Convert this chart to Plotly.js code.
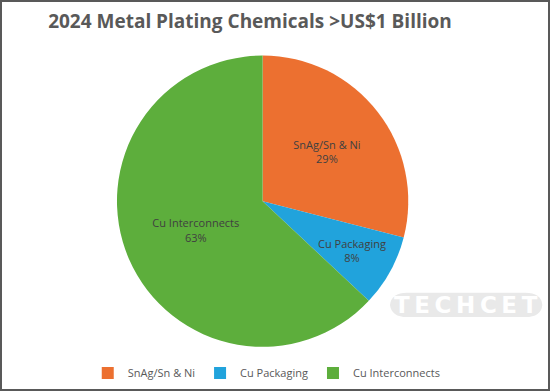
<!DOCTYPE html>
<html><head><meta charset="utf-8">
<script src="https://cdn.plot.ly/plotly-3.0.1.min.js"></script>
<style>
html,body{margin:0;padding:0;background:#fff;}
#wrap{width:550px;height:391px;box-sizing:border-box;border:2px solid #595959;position:relative;overflow:hidden;}
#chart{position:absolute;left:-2px;top:-2px;width:550px;height:391px;}
</style></head>
<body><div id="wrap"><div id="chart"></div></div>
<script>
const categories = ["SnAg/Sn & Ni", "Cu Packaging", "Cu Interconnects"];
const shares = [29, 8, 63];
const colors = ["#EC7030", "#21A3DC", "#5DAE3C"];

const W = 550, H = 391;
const dom = {x: [0.21, 0.745], y: [0.113, 0.858]};
const total = shares.reduce((a, b) => a + b, 0);

// small slice text drawn as an annotation at its mid-angle (inside text would be shrunk)
const smallIdx = 1;
const textTemplates = categories.map((c, i) => i === smallIdx ? "" : "%{label}<br>%{percent:.0%}");

const trace = {
  type: "pie",
  labels: categories,
  values: shares,
  sort: false,
  direction: "clockwise",
  rotation: 0,
  marker: {colors: colors, line: {color: "#ffffff", width: 0}},
  textposition: "inside",
  insidetextorientation: "horizontal",
  texttemplate: textTemplates,
  textfont: {family: "Open Sans, sans-serif", size: 11, color: "#404040"},
  domain: dom,
  hoverinfo: "none"
};

// pie geometry in pixels
const cx = (dom.x[0] + dom.x[1]) / 2 * W;
const cy = H - (dom.y[0] + dom.y[1]) / 2 * H;
const r = Math.min((dom.x[1] - dom.x[0]) * W, (dom.y[1] - dom.y[0]) * H) / 2;
let cum = 0;
for (let i = 0; i < smallIdx; i++) cum += shares[i];
const theta = 2 * Math.PI * (cum + shares[smallIdx] / 2) / total;
const px = cx + 0.70 * r * Math.sin(theta);
const py = cy - 0.70 * r * Math.cos(theta);

const layout = {
  width: W, height: H,
  margin: {l: 0, r: 0, t: 0, b: 0},
  paper_bgcolor: "rgba(0,0,0,0)",
  title: {text: "<b>2024 Metal Plating Chemicals >US$1 Billion</b>", x: 0.4545, xanchor: "center", y: 0.945, yanchor: "middle",
    font: {family: "Open Sans, sans-serif", size: 19, color: "#595959"}},
  showlegend: true,
  legend: {orientation: "h", x: 0.485, xanchor: "center", y: 0.046, yanchor: "middle",
    font: {family: "Open Sans, sans-serif", size: 11, color: "#595959"}, itemwidth: 30},
  shapes: [{
    type: "path", xref: "paper", yref: "paper",
    path: "M 0.709 0.22 Q 0.712 0.251 0.74 0.251 L 0.955 0.251 Q 0.984 0.251 0.986 0.22 Q 0.984 0.189 0.955 0.189 L 0.74 0.189 Q 0.712 0.189 0.709 0.22 Z",
    fillcolor: "#e9e9e9", line: {width: 0}, layer: "above"
  }],
  annotations: [{
    text: "<b>T\u2009E\u2009C\u2009H\u2009C\u2009E\u2009T</b>", xref: "paper", yref: "paper", x: 0.848, y: 0.22, xanchor: "center", yanchor: "middle",
    showarrow: false, font: {family: "DejaVu Sans, sans-serif", size: 23, color: "#ffffff"}
  }, {
    text: categories[smallIdx] + "<br>" + Math.round(100 * shares[smallIdx] / total) + "%",
    xref: "paper", yref: "paper", x: px / W, y: 1 - py / H, xanchor: "center", yanchor: "middle",
    showarrow: false, font: {family: "Open Sans, sans-serif", size: 11, color: "#404040"}
  }]
};

Plotly.newPlot("chart", [trace], layout, {displayModeBar: false, staticPlot: true});
</script></body></html>
